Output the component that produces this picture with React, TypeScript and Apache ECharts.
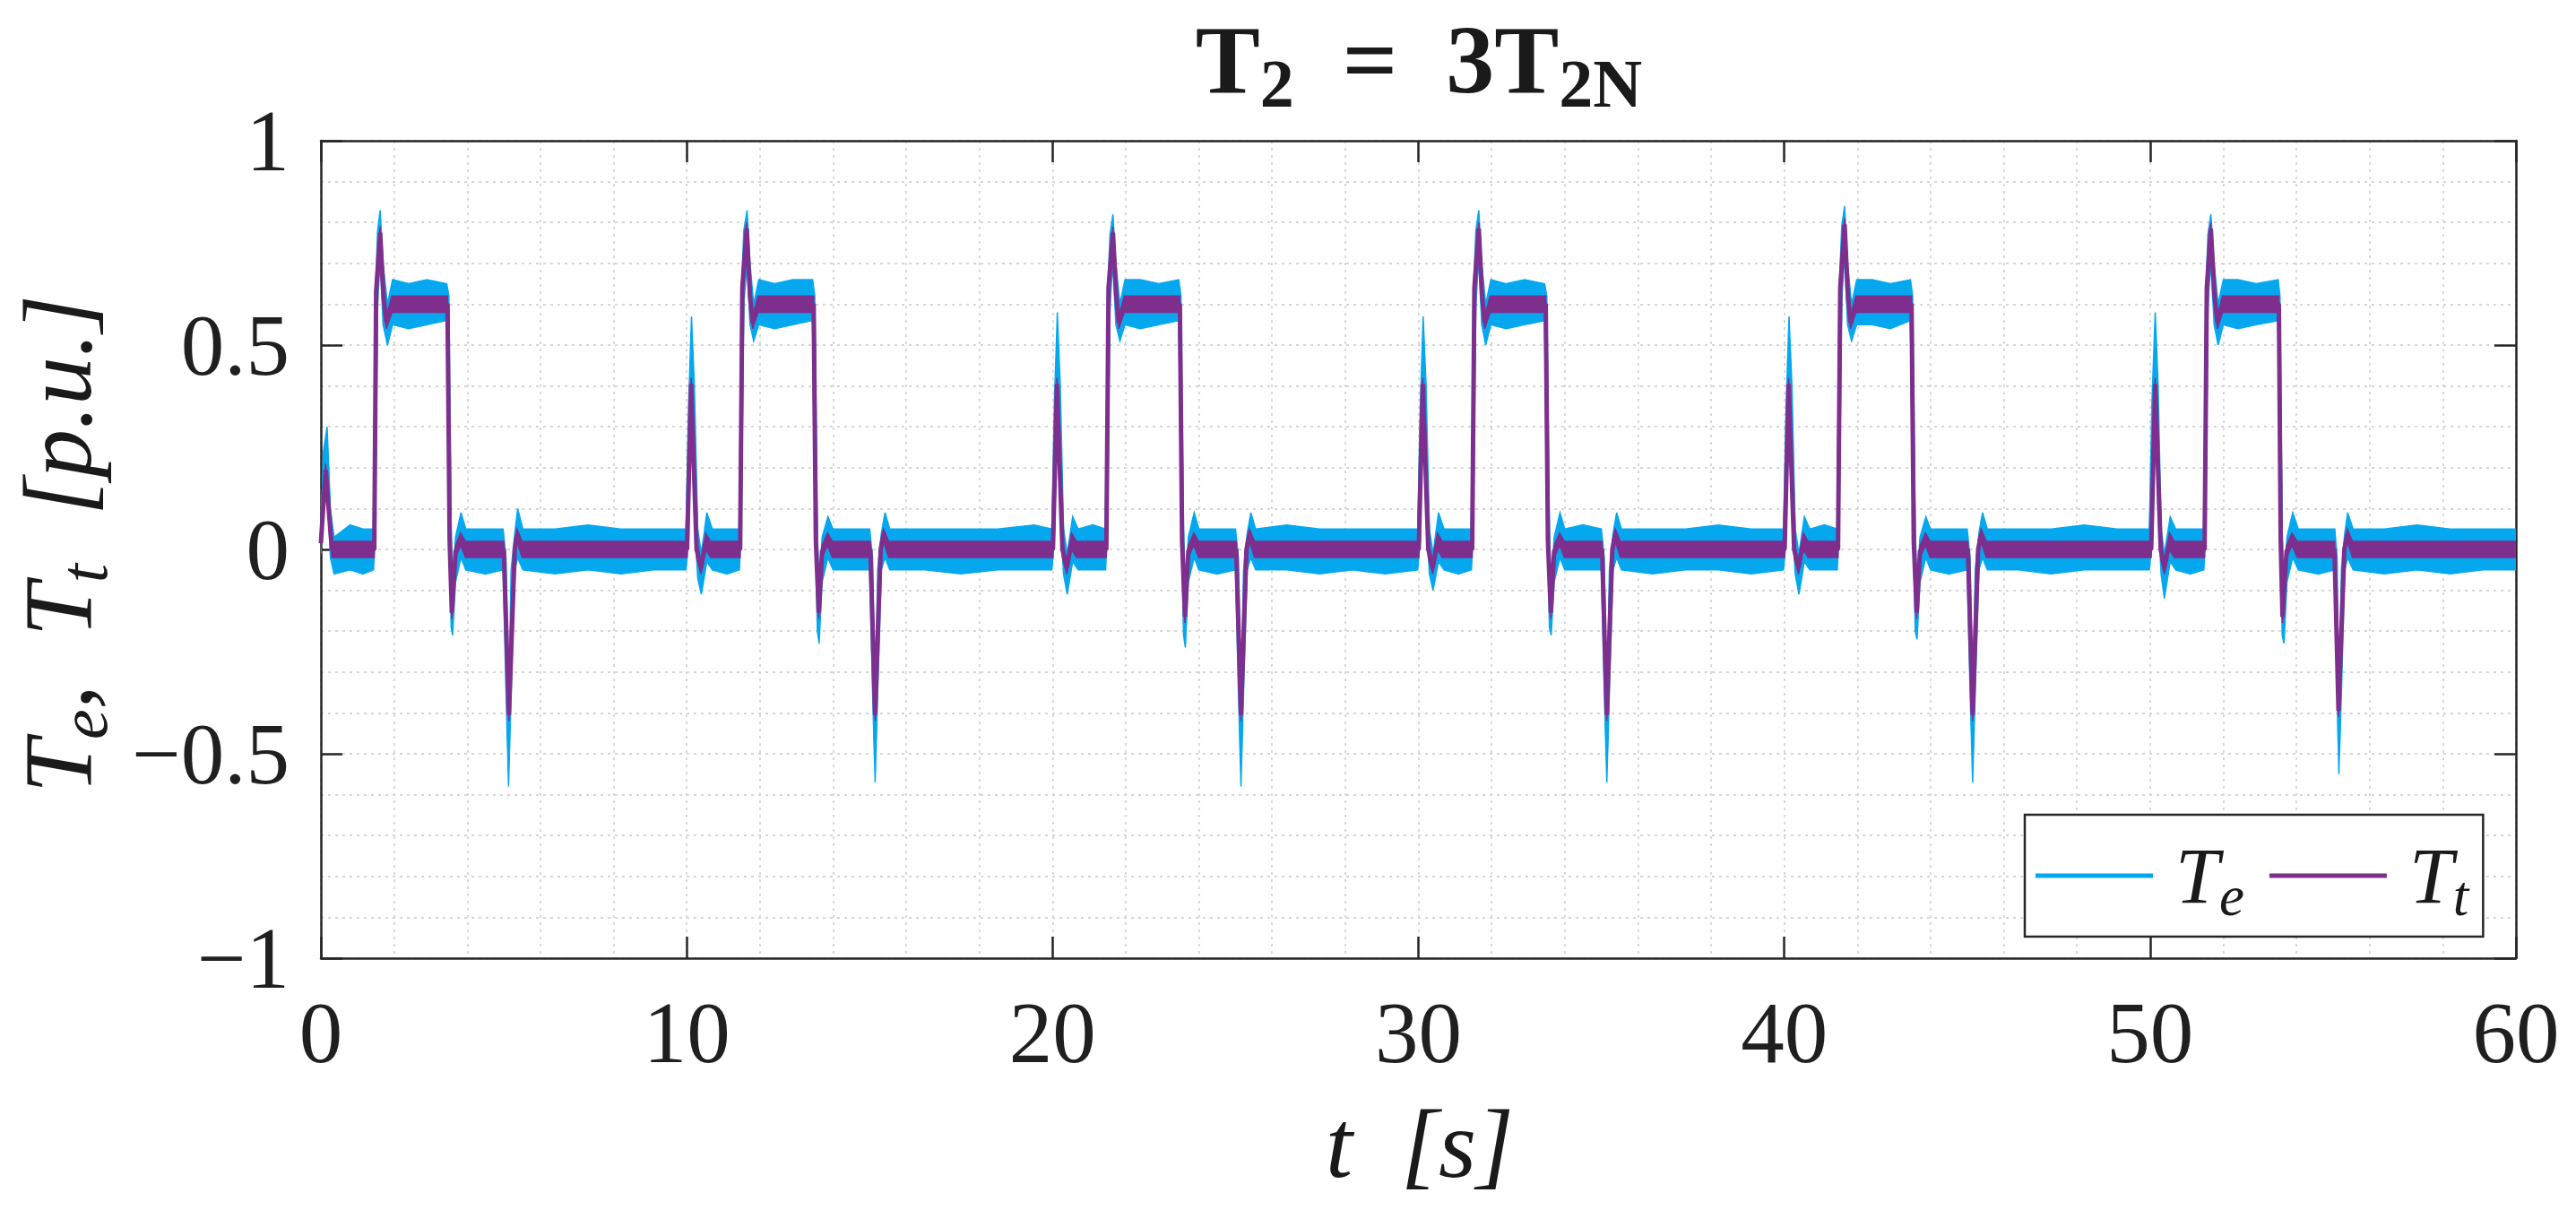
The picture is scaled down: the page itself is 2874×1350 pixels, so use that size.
import { useEffect, useRef } from 'react'
import * as echarts from 'echarts'

const TE_COLOR = '#05a8ef'
const TT_COLOR = '#7e2f8e'
const INK = '#262626'
const SERIF = '"Liberation Serif", "DejaVu Serif", serif'

const X_RANGE = [0, 60]
const Y_RANGE = [-1, 1]
const X_STEP = 10
const Y_STEP = 0.5

// Te: [t (s), lower edge, upper edge] of the noisy trace
const TE_BAND: number[][] = [
  [0.0, -0.01, 0.04], [0.07, 0.1, 0.24], [0.17, 0.17, 0.3], [0.26, -0.02, 0.1], [0.36, -0.06, 0.03],
  [0.8, -0.05, 0.06], [1.15, -0.06, 0.05], [1.44, -0.05, 0.05], [1.49, 0.05, 0.62], [1.55, 0.6, 0.78],
  [1.62, 0.71, 0.83], [1.7, 0.55, 0.7], [1.82, 0.5, 0.6], [1.96, 0.55, 0.66], [2.4, 0.54, 0.65],
  [2.9, 0.55, 0.66], [3.44, 0.56, 0.65], [3.5, 0.1, 0.62], [3.56, -0.19, 0.05], [3.6, -0.21, -0.1],
  [3.68, -0.08, 0.03], [3.83, -0.02, 0.09], [3.96, -0.05, 0.05], [4.5, -0.06, 0.05], [4.98, -0.05, 0.05],
  [5.06, -0.35, -0.02], [5.13, -0.58, -0.4], [5.2, -0.35, -0.05], [5.3, -0.05, 0.04], [5.38, -0.02, 0.1],
  [5.52, -0.05, 0.05], [6.4, -0.06, 0.05], [7.3, -0.05, 0.06], [8.2, -0.06, 0.05], [9.1, -0.05, 0.05],
  [9.98, -0.05, 0.05],

  [10.05, 0.02, 0.35], [10.13, 0.36, 0.57], [10.21, 0.08, 0.4], [10.3, -0.07, 0.05], [10.4, -0.11, -0.01],
  [10.55, -0.03, 0.09], [10.7, -0.05, 0.05], [11.1, -0.06, 0.05], [11.44, -0.05, 0.05], [11.49, 0.05, 0.62],
  [11.56, 0.6, 0.78], [11.65, 0.7, 0.83], [11.73, 0.55, 0.7], [11.83, 0.51, 0.6], [11.97, 0.55, 0.66],
  [12.4, 0.54, 0.65], [12.9, 0.55, 0.66], [13.44, 0.56, 0.66], [13.5, 0.1, 0.62], [13.57, -0.2, 0.05],
  [13.62, -0.23, -0.1], [13.7, -0.08, 0.03], [13.86, -0.02, 0.08], [14.0, -0.05, 0.05], [14.5, -0.05, 0.05],
  [15.0, -0.05, 0.05], [15.08, -0.35, -0.02], [15.15, -0.57, -0.4], [15.22, -0.35, -0.05], [15.32, -0.05, 0.04],
  [15.42, -0.02, 0.09], [15.55, -0.05, 0.05], [16.5, -0.05, 0.05], [17.5, -0.06, 0.05], [18.5, -0.05, 0.05],
  [19.5, -0.05, 0.06], [19.98, -0.05, 0.05],

  [20.05, 0.02, 0.36], [20.13, 0.36, 0.58], [20.21, 0.08, 0.4], [20.3, -0.06, 0.05], [20.4, -0.11, -0.01],
  [20.55, -0.03, 0.08], [20.7, -0.05, 0.05], [21.1, -0.05, 0.06], [21.45, -0.05, 0.05], [21.5, 0.05, 0.62],
  [21.57, 0.6, 0.77], [21.65, 0.7, 0.82], [21.73, 0.55, 0.7], [21.84, 0.51, 0.6], [21.98, 0.55, 0.66],
  [22.4, 0.54, 0.66], [22.9, 0.55, 0.65], [23.45, 0.56, 0.66], [23.51, 0.1, 0.62], [23.58, -0.21, 0.05],
  [23.63, -0.24, -0.1], [23.71, -0.08, 0.03], [23.87, -0.02, 0.09], [24.0, -0.05, 0.05], [24.5, -0.06, 0.05],
  [25.0, -0.05, 0.05], [25.08, -0.35, -0.02], [25.15, -0.58, -0.4], [25.22, -0.35, -0.05], [25.32, -0.05, 0.04],
  [25.42, -0.02, 0.09], [25.55, -0.05, 0.05], [26.4, -0.05, 0.06], [27.3, -0.06, 0.05], [28.2, -0.05, 0.05],
  [29.1, -0.06, 0.05], [29.98, -0.05, 0.05],

  [30.05, 0.02, 0.35], [30.13, 0.36, 0.57], [30.21, 0.08, 0.4], [30.3, -0.06, 0.05], [30.4, -0.1, -0.01],
  [30.55, -0.03, 0.09], [30.7, -0.05, 0.05], [31.1, -0.06, 0.05], [31.45, -0.05, 0.05], [31.5, 0.05, 0.62],
  [31.57, 0.6, 0.78], [31.65, 0.71, 0.83], [31.73, 0.55, 0.7], [31.84, 0.5, 0.6], [31.98, 0.55, 0.66],
  [32.4, 0.54, 0.65], [32.9, 0.55, 0.66], [33.45, 0.56, 0.65], [33.51, 0.1, 0.62], [33.58, -0.19, 0.05],
  [33.63, -0.21, -0.1], [33.71, -0.08, 0.03], [33.87, -0.02, 0.09], [34.0, -0.05, 0.05], [34.5, -0.05, 0.06],
  [35.0, -0.05, 0.05], [35.08, -0.35, -0.02], [35.15, -0.57, -0.4], [35.22, -0.35, -0.05], [35.32, -0.05, 0.04],
  [35.42, -0.02, 0.09], [35.55, -0.05, 0.05], [36.4, -0.06, 0.05], [37.3, -0.05, 0.05], [38.2, -0.05, 0.06],
  [39.1, -0.06, 0.05], [39.98, -0.05, 0.05],

  [40.05, 0.02, 0.35], [40.13, 0.36, 0.57], [40.21, 0.08, 0.4], [40.3, -0.06, 0.05], [40.4, -0.11, -0.01],
  [40.55, -0.03, 0.08], [40.7, -0.05, 0.05], [41.1, -0.05, 0.06], [41.45, -0.05, 0.05], [41.5, 0.05, 0.63],
  [41.57, 0.61, 0.79], [41.65, 0.72, 0.84], [41.73, 0.55, 0.7], [41.84, 0.51, 0.6], [41.98, 0.55, 0.66],
  [42.4, 0.55, 0.66], [42.9, 0.54, 0.65], [43.45, 0.56, 0.66], [43.51, 0.1, 0.62], [43.58, -0.2, 0.05],
  [43.63, -0.22, -0.1], [43.71, -0.08, 0.03], [43.87, -0.02, 0.08], [44.0, -0.05, 0.05], [44.5, -0.06, 0.05],
  [45.0, -0.05, 0.05], [45.08, -0.35, -0.02], [45.15, -0.57, -0.4], [45.22, -0.35, -0.05], [45.32, -0.05, 0.04],
  [45.42, -0.02, 0.09], [45.55, -0.05, 0.05], [46.4, -0.05, 0.05], [47.3, -0.06, 0.05], [48.2, -0.05, 0.06],
  [49.1, -0.05, 0.05], [49.98, -0.05, 0.05],

  [50.05, 0.02, 0.36], [50.14, 0.36, 0.58], [50.22, 0.08, 0.4], [50.3, -0.06, 0.05], [50.39, -0.12, -0.01],
  [50.55, -0.03, 0.08], [50.7, -0.05, 0.05], [51.1, -0.06, 0.05], [51.47, -0.05, 0.05], [51.52, 0.05, 0.62],
  [51.58, 0.6, 0.77], [51.66, 0.7, 0.82], [51.75, 0.55, 0.7], [51.86, 0.5, 0.6], [52.0, 0.55, 0.66],
  [52.4, 0.54, 0.66], [52.9, 0.55, 0.65], [53.5, 0.56, 0.66], [53.55, 0.1, 0.62], [53.61, -0.21, 0.05],
  [53.66, -0.23, -0.1], [53.74, -0.08, 0.03], [53.9, -0.02, 0.09], [54.05, -0.05, 0.05], [54.6, -0.06, 0.05],
  [55.05, -0.05, 0.05], [55.11, -0.34, -0.02], [55.16, -0.55, -0.39], [55.23, -0.35, -0.05], [55.32, -0.05, 0.04],
  [55.4, -0.02, 0.09], [55.55, -0.05, 0.05], [56.4, -0.06, 0.05], [57.3, -0.05, 0.06], [58.2, -0.06, 0.05],
  [59.1, -0.05, 0.05], [60.0, -0.05, 0.05],
]

// Tt: [t (s), lower edge, upper edge]
const TT_BAND: number[][] = [
  [0.0, 0.0, 0.03], [0.13, 0.18, 0.21], [0.3, -0.02, 0.02], [1.46, -0.02, 0.02], [1.51, 0.61, 0.65],
  [1.62, 0.76, 0.79], [1.71, 0.6, 0.64], [1.79, 0.54, 0.57], [1.94, 0.58, 0.62], [3.46, 0.58, 0.62],
  [3.52, 0.0, 0.04], [3.58, -0.17, -0.14], [3.68, -0.02, 0.01], [3.82, 0.01, 0.04], [3.95, -0.02, 0.02],
  [5.0, -0.02, 0.02], [5.14, -0.42, -0.39], [5.3, -0.02, 0.02], [5.36, 0.02, 0.05], [5.5, -0.02, 0.02],

  [10.01, -0.02, 0.02], [10.12, 0.39, 0.42], [10.27, -0.02, 0.02], [10.39, -0.06, -0.03], [10.52, 0.0, 0.04],
  [10.65, -0.02, 0.02], [11.46, -0.02, 0.02], [11.52, 0.62, 0.66], [11.64, 0.77, 0.8], [11.73, 0.6, 0.64],
  [11.8, 0.54, 0.57], [11.95, 0.58, 0.62], [13.47, 0.58, 0.62], [13.53, 0.0, 0.04], [13.61, -0.17, -0.14],
  [13.7, -0.02, 0.01], [13.85, 0.01, 0.04], [13.98, -0.02, 0.02], [15.02, -0.02, 0.02], [15.15, -0.42, -0.39],
  [15.3, -0.02, 0.02], [15.38, 0.02, 0.05], [15.52, -0.02, 0.02],

  [20.01, -0.02, 0.02], [20.12, 0.39, 0.42], [20.27, -0.02, 0.02], [20.39, -0.06, -0.03], [20.52, 0.0, 0.04],
  [20.65, -0.02, 0.02], [21.47, -0.02, 0.02], [21.53, 0.62, 0.66], [21.65, 0.76, 0.79], [21.74, 0.6, 0.64],
  [21.81, 0.54, 0.57], [21.96, 0.58, 0.62], [23.48, 0.58, 0.62], [23.54, 0.0, 0.04], [23.62, -0.18, -0.15],
  [23.71, -0.02, 0.01], [23.86, 0.01, 0.04], [23.99, -0.02, 0.02], [25.02, -0.02, 0.02], [25.15, -0.42, -0.39],
  [25.3, -0.02, 0.02], [25.38, 0.02, 0.05], [25.52, -0.02, 0.02],

  [30.01, -0.02, 0.02], [30.12, 0.39, 0.42], [30.27, -0.02, 0.02], [30.39, -0.06, -0.03], [30.52, 0.0, 0.04],
  [30.65, -0.02, 0.02], [31.47, -0.02, 0.02], [31.53, 0.62, 0.66], [31.65, 0.77, 0.8], [31.74, 0.6, 0.64],
  [31.81, 0.54, 0.57], [31.96, 0.58, 0.62], [33.48, 0.58, 0.62], [33.54, 0.0, 0.04], [33.62, -0.17, -0.14],
  [33.71, -0.02, 0.01], [33.86, 0.01, 0.04], [33.99, -0.02, 0.02], [35.02, -0.02, 0.02], [35.15, -0.42, -0.39],
  [35.3, -0.02, 0.02], [35.38, 0.02, 0.05], [35.52, -0.02, 0.02],

  [40.01, -0.02, 0.02], [40.12, 0.39, 0.42], [40.27, -0.02, 0.02], [40.39, -0.06, -0.03], [40.52, 0.0, 0.04],
  [40.65, -0.02, 0.02], [41.47, -0.02, 0.02], [41.53, 0.62, 0.66], [41.65, 0.78, 0.81], [41.74, 0.6, 0.64],
  [41.81, 0.54, 0.57], [41.96, 0.58, 0.62], [43.48, 0.58, 0.62], [43.54, 0.0, 0.04], [43.62, -0.17, -0.14],
  [43.71, -0.02, 0.01], [43.86, 0.01, 0.04], [43.99, -0.02, 0.02], [45.02, -0.02, 0.02], [45.15, -0.42, -0.39],
  [45.3, -0.02, 0.02], [45.38, 0.02, 0.05], [45.52, -0.02, 0.02],

  [50.03, -0.02, 0.02], [50.14, 0.39, 0.42], [50.29, -0.02, 0.02], [50.39, -0.06, -0.03], [50.53, 0.0, 0.04],
  [50.66, -0.02, 0.02], [51.49, -0.02, 0.02], [51.55, 0.62, 0.66], [51.66, 0.77, 0.8], [51.76, 0.6, 0.64],
  [51.84, 0.54, 0.57], [51.98, 0.58, 0.62], [53.52, 0.58, 0.62], [53.57, 0.0, 0.04], [53.62, -0.18, -0.15],
  [53.73, -0.02, 0.01], [53.88, 0.01, 0.04], [54.02, -0.02, 0.02], [55.04, -0.02, 0.02], [55.15, -0.41, -0.38],
  [55.31, -0.02, 0.02], [55.39, 0.02, 0.05], [55.53, -0.02, 0.02], [60.0, -0.02, 0.02],
]

const midline = (rows: number[][]) => rows.map(([t, lo, hi]) => [t, (lo + hi) / 2])

// one filled polygon between the lower and upper edges
function bandSeries(name: string, rows: number[][], color: string, z: number) {
  return {
    type: 'custom',
    name,
    data: rows,
    encode: { x: 0, y: [1, 2] },
    clip: true,
    silent: true,
    z,
    renderItem: (params: any, api: any) => {
      if (params.dataIndex !== 0) return null
      const upper = rows.map((r) => api.coord([r[0], r[2]]))
      const lower = rows
        .slice()
        .reverse()
        .map((r) => api.coord([r[0], r[1]]))
      return {
        type: 'polygon',
        shape: { points: upper.concat(lower) },
        style: { fill: color, stroke: color, lineWidth: 1.5 },
      }
    },
  }
}

const gridDots = { color: '#d6d6d6', width: 1.8, type: [3, 5] }
const frameLine = { onZero: false, lineStyle: { color: INK, width: 2.5 } }
const frameTick = { inside: true, length: 24, lineStyle: { color: INK, width: 2.5 } }
const tickFont = { fontSize: 97, fontFamily: SERIF, color: '#1f1f1f', margin: 35 }

const minus = (v: number) => (v < 0 ? '\u2212' + Math.abs(v) : String(v))

function buildOption(): echarts.EChartsCoreOption {
  return {
    animation: false,
    backgroundColor: '#ffffff',
    grid: { left: 358, right: 67, top: 157, bottom: 281, containLabel: false },
    xAxis: [
      {
        type: 'value',
        min: X_RANGE[0],
        max: X_RANGE[1],
        interval: X_STEP,
        position: 'bottom',
        axisLine: frameLine,
        axisTick: frameTick,
        axisLabel: tickFont,
        splitLine: { show: true, lineStyle: gridDots },
        minorTick: { show: false, splitNumber: 5 },
        minorSplitLine: { show: true, lineStyle: gridDots },
      },
      {
        type: 'value',
        min: X_RANGE[0],
        max: X_RANGE[1],
        interval: X_STEP,
        position: 'top',
        axisLine: frameLine,
        axisTick: frameTick,
        axisLabel: { show: false },
        splitLine: { show: false },
      },
    ],
    yAxis: [
      {
        type: 'value',
        min: Y_RANGE[0],
        max: Y_RANGE[1],
        interval: Y_STEP,
        position: 'left',
        axisLine: frameLine,
        axisTick: frameTick,
        axisLabel: { ...tickFont, formatter: minus },
        splitLine: { show: true, lineStyle: gridDots },
        minorTick: { show: false, splitNumber: 5 },
        minorSplitLine: { show: true, lineStyle: gridDots },
      },
      {
        type: 'value',
        min: Y_RANGE[0],
        max: Y_RANGE[1],
        interval: Y_STEP,
        position: 'right',
        axisLine: frameLine,
        axisTick: frameTick,
        axisLabel: { show: false },
        splitLine: { show: false },
      },
    ],
    legend: {
      data: ['Te', 'Tt'],
      left: 2259,
      top: 909,
      orient: 'horizontal',
      icon: 'rect',
      itemWidth: 131,
      itemHeight: 5,
      itemGap: 28,
      padding: [14, 16, 14, 12],
      backgroundColor: '#ffffff',
      borderColor: INK,
      borderWidth: 2.5,
      borderRadius: 0,
      selectedMode: false,
      z: 10,
      formatter: (name: string) => (name === 'Te' ? '{m|T}{s|e}' : '{m|T}{s|t}'),
      textStyle: {
        color: '#1a1a1a',
        rich: {
          m: { fontFamily: SERIF, fontStyle: 'italic', fontSize: 88, lineHeight: 50, padding: [0, 0, 0, 20], color: '#1a1a1a' },
          s: { fontFamily: SERIF, fontStyle: 'italic', fontSize: 63, lineHeight: 50, padding: [45, 0, 0, 0], color: '#1a1a1a' },
        },
      },
    },
    graphic: [
      {
        type: 'text',
        x: 1583,
        y: 66,
        style: {
          text: '{b|T}{s|2}{b|\u00a0\u00a0=\u00a0\u00a03T}{s|2N}',
          align: 'center',
          verticalAlign: 'middle',
          rich: {
            b: { fontFamily: SERIF, fontWeight: 'bold', fontSize: 108, lineHeight: 108, fill: '#1a1a1a' },
            s: { fontFamily: SERIF, fontWeight: 'bold', fontSize: 76, lineHeight: 76, padding: [54, 0, 0, 0], fill: '#1a1a1a' },
          },
        },
      },
      {
        type: 'text',
        x: 64,
        y: 607,
        rotation: Math.PI / 2,
        style: {
          text: '{i|T}{s|e}{i|,\u00a0\u00a0T}{s|t}{i|\u00a0\u00a0[p.u.]}',
          align: 'center',
          verticalAlign: 'middle',
          rich: {
            i: { fontFamily: SERIF, fontStyle: 'italic', fontSize: 108, lineHeight: 108, fill: '#1a1a1a' },
            s: { fontFamily: SERIF, fontStyle: 'italic', fontSize: 76, lineHeight: 76, padding: [58, 0, 0, 0], fill: '#1a1a1a' },
          },
        },
      },
      {
        type: 'text',
        x: 1584,
        y: 1276,
        style: {
          text: 't\u00a0\u00a0[s]',
          align: 'center',
          verticalAlign: 'middle',
          fontFamily: SERIF,
          fontStyle: 'italic',
          fontSize: 108,
          fill: '#1a1a1a',
        },
      },
    ],
    series: [
      bandSeries('Te band', TE_BAND, TE_COLOR, 2),
      {
        type: 'line',
        name: 'Te',
        data: midline(TE_BAND),
        symbol: 'none',
        showSymbol: false,
        silent: true,
        z: 3,
        lineStyle: { color: TE_COLOR, width: 3 },
        itemStyle: { color: TE_COLOR },
      },
      bandSeries('Tt band', TT_BAND, TT_COLOR, 4),
      {
        type: 'line',
        name: 'Tt',
        data: midline(TT_BAND),
        symbol: 'none',
        showSymbol: false,
        silent: true,
        z: 5,
        lineStyle: { color: TT_COLOR, width: 5 },
        itemStyle: { color: TT_COLOR },
      },
    ],
  }
}

export default function App() {
  const ref = useRef<HTMLDivElement | null>(null)

  useEffect(() => {
    if (!ref.current) return
    const chart = echarts.init(ref.current, undefined, { renderer: 'svg' })
    chart.setOption(buildOption())
    return () => {
      chart.dispose()
    }
  }, [])

  return (
    <div
      ref={ref}
      style={{ position: 'fixed', left: 0, top: 0, width: 2874, height: 1350, background: '#fff' }}
    />
  )
}
